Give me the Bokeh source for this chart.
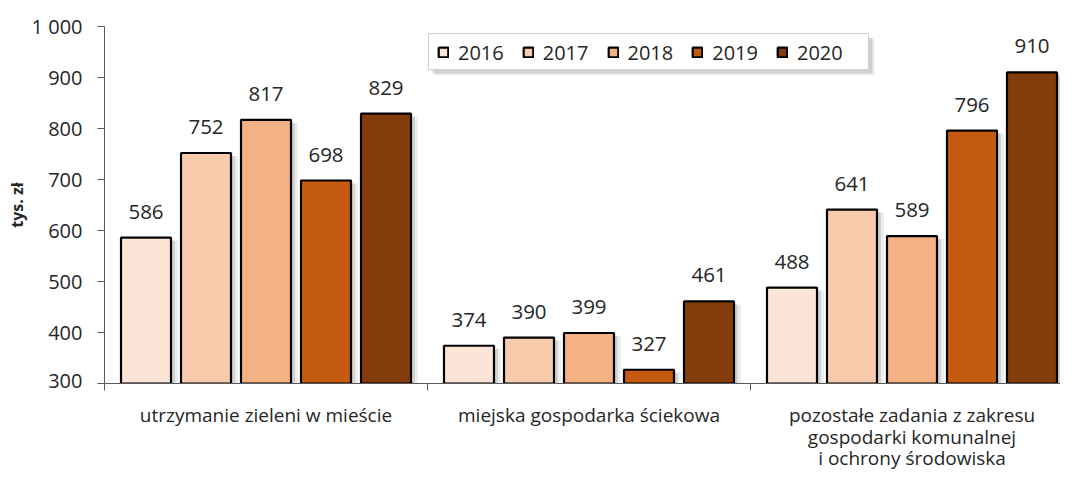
from bokeh.plotting import figure
from bokeh.layouts import column
from bokeh.models import Range1d, FixedTicker, Legend, LegendItem, ColumnDataSource
from bokeh.embed import file_html
from bokeh.resources import INLINE
from bokeh.core.properties import value

categories = [["utrzymanie zieleni w mieście"],
              ["miejska gospodarka ściekowa"],
              ["pozostałe zadania z zakresu", "gospodarki komunalnej", "i ochrony środowiska"]]
years = ["2016", "2017", "2018", "2019", "2020"]
v2016 = [586, 374, 488]
v2017 = [752, 390, 641]
v2018 = [817, 399, 589]
v2019 = [698, 327, 796]
v2020 = [829, 461, 910]
series = [v2016, v2017, v2018, v2019, v2020]
colors = ["#FCE4D6", "#F8CBAD", "#F4B183", "#C55A11", "#843C0C"]
y_ticks = [300, 400, 500, 600, 700, 800, 900, 1000]
y_tick_labels = ["300", "400", "500", "600", "700", "800", "900", "1 000"]

FONT = "Open Sans"
TXT = "#262626"

W = 1060
LEFT, TOP = 104, 26
FRAME_BOTTOM = 383          # px from top of page
H1 = FRAME_BOTTOM + 10       # main figure height
H2 = 470 - H1                # label strip height
Y0, Y1 = 300, 1000
CAT_PX = 323.0
frame_w = W - LEFT
frame_h = FRAME_BOTTOM - TOP
XPX = 1.0 / CAT_PX
YPX = (Y1 - Y0) / frame_h

xr = Range1d(0, frame_w / CAT_PX)
p = figure(width=W, height=H1, output_backend="svg", toolbar_location=None,
           x_range=xr, y_range=Range1d(Y0, Y1),
           min_border_left=LEFT, min_border_right=0, min_border_top=TOP,
           min_border_bottom=H1 - FRAME_BOTTOM)
p.outline_line_color = None
p.grid.visible = False

step = 60 * XPX
bw = 50 * XPX
centers = [i + 0.5 for i in range(len(categories))]

# legend box with shadow (drawn behind the transparent legend)
LX, LW, LT, LH = 324, 440, 7, 36
for off, a in [(6, 0.15), (4, 0.3)]:
    p.quad(left=(LX + off) * XPX, right=(LX + LW + off) * XPX,
           top=Y1 - (LT + off) * YPX, bottom=Y1 - (LT + LH + off) * YPX,
           fill_color="#8c8c8c", fill_alpha=a, line_color=None)
p.quad(left=LX * XPX, right=(LX + LW) * XPX, top=Y1 - LT * YPX,
       bottom=Y1 - (LT + LH) * YPX, fill_color="white", line_color="#d0d0d0",
       line_width=1)

legend_items = []
for k, (yr, vals, col) in enumerate(zip(years, series, colors)):
    xs = [c + (k - 2) * step for c in centers]
    src = ColumnDataSource(dict(x=xs, top=vals, lab=[str(v) for v in vals]))
    p.vbar(x=[x + 7 * XPX for x in xs], top=[v - 3 * YPX for v in vals], bottom=Y0,
           width=bw, fill_color="#8c8c8c", fill_alpha=0.16, line_color=None)
    p.vbar(x=[x + 4 * XPX for x in xs], top=[v - 3 * YPX for v in vals], bottom=Y0,
           width=bw, fill_color="#8c8c8c", fill_alpha=0.28, line_color=None)
    r = p.vbar(x="x", top="top", bottom=Y0, width=bw, source=src,
               fill_color=col, line_color="black", line_width=2.2)
    p.text(x="x", y="top", text="lab", source=src, text_align="center",
           text_baseline="alphabetic", y_offset=-26, text_font=value(FONT),
           text_font_size="20.5px", text_color=TXT)
    legend_items.append(LegendItem(label=yr, renderers=[r]))

# y axis
p.yaxis.ticker = FixedTicker(ticks=y_ticks)
p.yaxis.major_label_overrides = {t: l for t, l in zip(y_ticks, y_tick_labels)}
p.yaxis.minor_tick_line_color = None
p.yaxis.major_tick_in = 0
p.yaxis.major_tick_out = 7
p.yaxis.axis_line_color = "#595959"
p.yaxis.major_tick_line_color = "#595959"
p.yaxis.major_label_text_font = FONT
p.yaxis.major_label_text_font_size = "20px"
p.yaxis.major_label_text_color = TXT
p.yaxis.major_label_standoff = 15
p.yaxis.axis_label = "tys. zł"
p.yaxis.axis_label_text_font = FONT
p.yaxis.axis_label_text_font_size = "16px"
p.yaxis.axis_label_text_font_style = "bold"
p.yaxis.axis_label_text_color = TXT
p.yaxis.axis_label_standoff = 1

# x axis: only separator ticks
p.xaxis.ticker = FixedTicker(ticks=[], minor_ticks=[0, 1, 2, 3])
p.xaxis.major_label_text_font_size = "0px"
p.xaxis.major_label_standoff = 0
p.xaxis.major_tick_in = 0
p.xaxis.major_tick_out = 0
p.xaxis.minor_tick_in = 0
p.xaxis.minor_tick_out = 7
p.xaxis.axis_line_color = "#595959"
p.xaxis.minor_tick_line_color = "#595959"

legend = Legend(items=legend_items, orientation="horizontal",
                location=(LX + 9, frame_h - LT - LH + 3),
                label_text_font=FONT, label_text_font_size="20px",
                label_text_color=TXT, glyph_width=12, glyph_height=12,
                label_standoff=9, spacing=18, padding=4, margin=0, label_height=28,
                border_line_color=None, background_fill_alpha=0)
p.add_layout(legend, "center")

# category label strip
p2 = figure(width=W, height=H2, output_backend="svg", toolbar_location=None,
            x_range=xr, y_range=Range1d(0, H2),
            min_border_left=LEFT, min_border_right=0, min_border_top=0,
            min_border_bottom=0, x_axis_location=None, y_axis_location=None)
p2.outline_line_color = None
p2.grid.visible = False
baselines = [414, 436, 457]
lx, ly, lt = [], [], []
for c, lines in zip(centers, categories):
    for j, line in enumerate(lines):
        lx.append(c)
        ly.append(H2 - (baselines[j] - H1))
        lt.append(line)
p2.text(x=lx, y=ly, text=lt, text_align="center", text_baseline="alphabetic",
        text_font=value(FONT), text_font_size="19px", text_color=TXT)

layout = column(p, p2, spacing=0)
open("out.html", "w").write(file_html(layout, INLINE))
